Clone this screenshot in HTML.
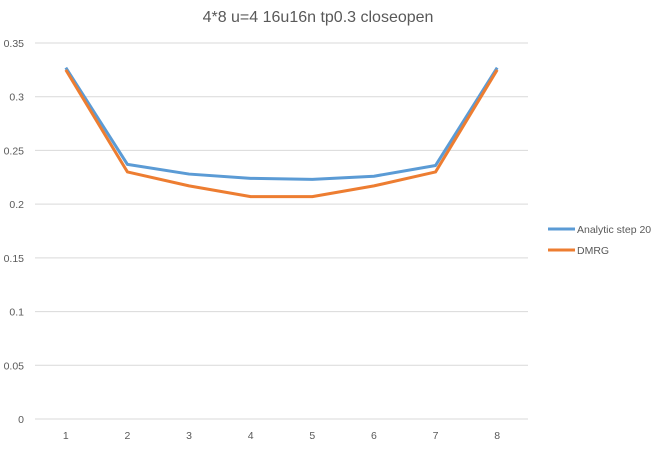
<!DOCTYPE html>
<html><head><meta charset="utf-8"><style>
body{margin:0;background:#fff;}
svg{display:block;font-family:"Liberation Sans",sans-serif;}
</style></head><body>
<svg id="chart" width="659" height="450" viewBox="0 0 659 450">
<rect width="659" height="450" fill="#fff"/>
<text x="318" y="22" font-size="16" fill="#595959" text-anchor="middle">4*8 u=4 16u16n tp0.3 closeopen</text>
<g id="grid"></g><g id="series"></g>
<g>
<line x1="548" y1="229" x2="575" y2="229" stroke="#5b9bd5" stroke-width="3"/>
<text x="577" y="233" font-size="10.5" fill="#595959">Analytic step 20</text>
<line x1="548" y1="250" x2="575" y2="250" stroke="#ed7d31" stroke-width="3"/>
<text x="577" y="254" font-size="10.5" fill="#595959">DMRG</text>
</g>
</svg>
<script>
const categories=["1","2","3","4","5","6","7","8"];
const yTicks=[0,0.05,0.1,0.15,0.2,0.25,0.3,0.35];
const analytic=[0.327,0.237,0.228,0.224,0.223,0.226,0.236,0.327];
const dmrg=[0.325,0.230,0.217,0.207,0.207,0.217,0.230,0.325];
const NS="http://www.w3.org/2000/svg";
const L=35,R=528,T=43,B=419,yMax=0.35;
const step=(R-L)/categories.length;
const x=i=>L+step*(i+0.5);
const y=v=>B-(v/yMax)*(B-T);
const grid=document.getElementById('grid');
yTicks.forEach(t=>{
  const ln=document.createElementNS(NS,'line');
  
  
  ln.setAttribute('x1',L);ln.setAttribute('x2',R);ln.setAttribute('y1',y(t));ln.setAttribute('y2',y(t));
  ln.setAttribute('stroke','#d9d9d9');ln.setAttribute('stroke-width','1');
  grid.appendChild(ln);
  const tx=document.createElementNS(NS,'text');
  
  
  tx.setAttribute('x',24);tx.setAttribute('y',y(t)+4);tx.setAttribute('text-anchor','end');
  tx.setAttribute('font-size','10.5');tx.setAttribute('fill','#595959');
  tx.textContent=String(t);grid.appendChild(tx);
});
categories.forEach((c,i)=>{
  const tx=document.createElementNS(NS,'text');
  
  
  tx.setAttribute('x',x(i));tx.setAttribute('y',439);tx.setAttribute('text-anchor','middle');
  tx.setAttribute('font-size','10.5');tx.setAttribute('fill','#595959');
  tx.textContent=c;grid.appendChild(tx);
});
const ser=document.getElementById('series');
function draw(vals,color,name){
  const p=document.createElementNS(NS,'polyline');
  
  
  p.setAttribute('points',vals.map((v,i)=>x(i)+','+y(v)).join(' '));
  p.setAttribute('fill','none');p.setAttribute('stroke',color);p.setAttribute('stroke-width','3');
  p.setAttribute('stroke-linejoin','round');
  ser.appendChild(p);
}
draw(analytic,'#5b9bd5','analytic-line');
draw(dmrg,'#ed7d31','dmrg-line');
</script>
</body></html>
